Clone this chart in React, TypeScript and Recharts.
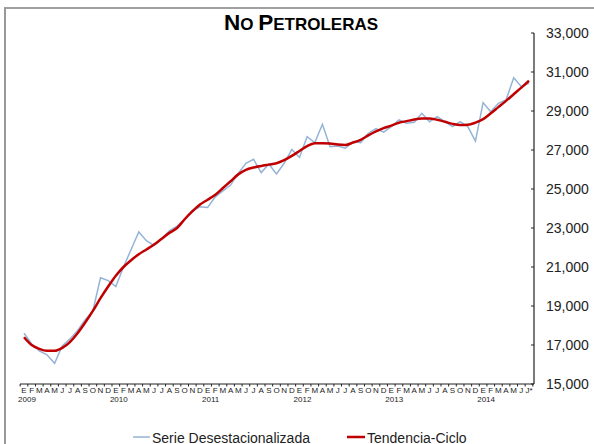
import { LineChart, Line, XAxis, YAxis } from "recharts";

const monthInitials = ["E", "F", "M", "A", "M", "J", "J", "A", "S", "O", "N", "D"];
const years = [2009, 2010, 2011, 2012, 2013, 2014];
const lastMonthLabel = "J*";

// Serie desestacionalizada, ene-2009 .. jul-2014
const serieDesestacionalizada = [
  17600, 17050, 16700, 16500, 16060, 16950, 17300, 17750, 18300, 18750, 20450, 20300,
  20000, 21000, 21900, 22800, 22350, 22100, 22450, 22850, 23100, 23450, 23900, 24090,
  24050, 24600, 24900, 25200, 25800, 26320, 26520, 25840, 26280, 25770, 26320, 27030,
  26620, 27680, 27380, 28320, 27170, 27200, 27090, 27430, 27380, 27860, 28100, 27920,
  28200, 28540, 28370, 28420, 28880, 28450, 28710, 28450, 28200, 28450, 28200, 27460,
  29430, 28960, 29390, 29570, 30710, 30250, 30420,
];

// Tendencia-ciclo
const tendenciaCiclo = [
  17400, 17000, 16800, 16700, 16700, 16850, 17150, 17600, 18150, 18750, 19400, 20000,
  20550, 21000, 21350, 21650, 21900, 22150, 22450, 22750, 23000, 23450, 23850, 24200,
  24450, 24700, 25050, 25400, 25750, 25980, 26100, 26180, 26250, 26320, 26480, 26700,
  26950, 27200, 27340, 27350, 27330, 27280, 27260, 27380, 27520, 27750, 27950, 28120,
  28250, 28400, 28480, 28560, 28610, 28620, 28550, 28450, 28340, 28280, 28290, 28400,
  28580, 28880, 29200, 29520, 29860, 30200, 30550,
];

const yTicks = [15000, 17000, 19000, 21000, 23000, 25000, 27000, 29000, 31000, 33000];

const data = serieDesestacionalizada.map((v, i) => {
  const m = i % 12;
  const year = years[Math.floor(i / 12)];
  return {
    periodo: `${year}-${m + 1}`,
    mes: i === serieDesestacionalizada.length - 1 ? lastMonthLabel : monthInitials[m],
    anio: m === 0 ? String(year) : "",
    serie: v,
    tendencia: tendenciaCiclo[i],
  };
});

const FONT = "'Liberation Sans', Arial, sans-serif";
const HALF = 3.83;

function MonthTick(props: any) {
  const { x, y, payload } = props;
  const d = data[payload.index] ?? data.find((e) => e.periodo === payload.value);
  const isLast = payload.index === data.length - 1;
  return (
    <g>
      <line x1={x - HALF} x2={x - HALF} y1={y} y2={y + 2.5} stroke="#222" strokeWidth={1} />
      {isLast && <line x1={x + HALF} x2={x + HALF} y1={y} y2={y + 2.5} stroke="#222" strokeWidth={1} />}
      <text x={x} y={y + 6.5} textAnchor="middle" dominantBaseline="central" fontSize={8} fill="#222" fontFamily={FONT}>
        {d?.mes}
      </text>
      {d?.anio ? (
        <text x={x + 3} y={y + 15.5} textAnchor="middle" dominantBaseline="central" fontSize={8} fill="#222" fontFamily={FONT}>
          {d.anio}
        </text>
      ) : null}
    </g>
  );
}

function ValueTick(props: any) {
  const { x, y, payload } = props;
  return (
    <g>
      <line x1={x - 3} x2={x} y1={y} y2={y} stroke="#222" strokeWidth={1} />
      <text x={x + 12} y={y} textAnchor="start" dominantBaseline="central" fontSize={14} fill="#222" fontFamily={FONT}>
        {Number(payload.value).toLocaleString("en-US")}
      </text>
    </g>
  );
}

export default function App() {
  return (
    <div style={{ position: "absolute", left: 0, top: 0, width: 594, height: 444, background: "#fff", overflow: "hidden" }}>
      <LineChart width={594} height={444} data={data} margin={{ top: 33, right: 0, bottom: 30, left: 20 }}>
        <XAxis
          dataKey="periodo"
          interval={0}
          height={30}
          padding={{ left: 4, right: 5 }}
          tickSize={0}
          tickMargin={0}
          tickLine={false}
          axisLine={{ stroke: "#222", strokeWidth: 1 }}
          tick={<MonthTick />}
        />
        <YAxis
          orientation="right"
          domain={[15000, 33000]}
          ticks={yTicks}
          width={60}
          tickSize={0}
          tickMargin={0}
          tickLine={false}
          axisLine={{ stroke: "#222", strokeWidth: 1.2 }}
          tick={<ValueTick />}
        />
        <Line
          type="linear"
          dataKey="serie"
          stroke="#95B3D7"
          strokeWidth={1.5}
          dot={false}
          isAnimationActive={false}
        />
        <Line
          type="monotone"
          dataKey="tendencia"
          stroke="#C00000"
          strokeWidth={2.5}
          dot={false}
          isAnimationActive={false}
        />
      </LineChart>
      <svg
        width={594}
        height={444}
        style={{ position: "absolute", left: 0, top: 0, pointerEvents: "none" }}
      >
        <line x1={4} x2={594} y1={8} y2={8} stroke="#444" strokeWidth={1.2} />
        <line x1={5} x2={5} y1={7.5} y2={444} stroke="#999" strokeWidth={2} />
        <text x={301} y={30} textAnchor="middle" fontFamily={FONT} fontWeight="bold" fill="#000">
          <tspan fontSize={22.5}>N</tspan>
          <tspan fontSize={17}>O </tspan>
          <tspan fontSize={22.5}>P</tspan>
          <tspan fontSize={17}>ETROLERAS</tspan>
        </text>
        <line x1={133} x2={150} y1={437} y2={437} stroke="#95B3D7" strokeWidth={1.5} />
        <text x={152} y={442.5} fontSize={14} fontFamily={FONT} fill="#222">
          Serie Desestacionalizada
        </text>
        <line x1={347} x2={365} y1={437} y2={437} stroke="#C00000" strokeWidth={2.5} />
        <text x={367} y={442.5} fontSize={14} fontFamily={FONT} fill="#222">
          Tendencia-Ciclo
        </text>
      </svg>
    </div>
  );
}
